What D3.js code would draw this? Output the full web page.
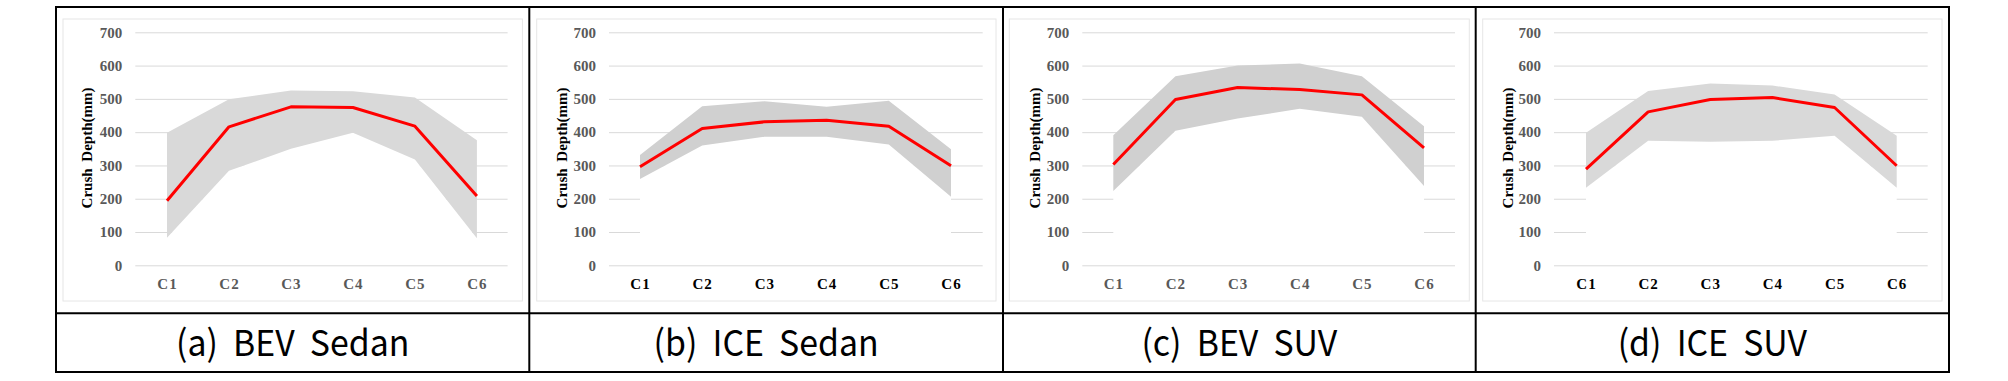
<!DOCTYPE html>
<html>
<head>
<meta charset="utf-8">
<script src="https://d3js.org/d3.v7.min.js"></script>
<style>
  body { margin: 0; background: #fff; }
  svg { display: block; }
</style>
</head>
<body>
<div id="chart"></div>
<script>
// shared axis data
var categories = ["C1", "C2", "C3", "C4", "C5", "C6"];
var yTicks = [0, 100, 200, 300, 400, 500, 600, 700];
var captions = ["(a)  BEV  Sedan", "(b)  ICE  Sedan", "(c)  BEV  SUV", "(d)  ICE  SUV"];

// crush depth (mm): mean line, upper and lower band edges
var meanBevSedan  = [194, 416, 476, 474, 418, 208];
var upperBevSedan = [398, 499, 525, 523, 504, 376];
var lowerBevSedan = [83, 284, 350, 398, 318, 81];

var meanIceSedan  = [296, 411, 431, 436, 418, 299];
var upperIceSedan = [331, 478, 493, 476, 494, 349];
var lowerIceSedan = [259, 360, 386, 386, 363, 206];

var meanBevSuv  = [303, 498, 534, 528, 512, 353];
var upperBevSuv = [391, 568, 600, 606, 568, 418];
var lowerBevSuv = [223, 404, 441, 470, 446, 238];

var meanIceSuv  = [289, 461, 498, 504, 474, 299];
var upperIceSuv = [398, 524, 546, 540, 513, 389];
var lowerIceSuv = [233, 374, 371, 374, 389, 233];

// layout of the four cells
var colEdges = [56, 529.3, 1003, 1475.7, 1949];
var tableTop = 7, rowDivider = 313.3, tableBottom = 372;

var panels = [
  { mean: meanBevSedan, upper: upperBevSedan, lower: lowerBevSedan,
    box: [63, 522.4], grid: [135.3, 507.6], c1: 167, c6: 476.9, titleX: 87.1,
    band: "#d9d9d9", xLabel: "#595959" },
  { mean: meanIceSedan, upper: upperIceSedan, lower: lowerIceSedan,
    box: [536.7, 996], grid: [609, 982.7], c1: 640, c6: 951, titleX: 561.7,
    band: "#d0d0d0", xLabel: "#000" },
  { mean: meanBevSuv, upper: upperBevSuv, lower: lowerBevSuv,
    box: [1009.3, 1469.3], grid: [1082.3, 1455], c1: 1113.3, c6: 1424, titleX: 1034.3,
    band: "#d0d0d0", xLabel: "#595959" },
  { mean: meanIceSuv, upper: upperIceSuv, lower: lowerIceSuv,
    box: [1482.7, 1942], grid: [1554, 1927.7], c1: 1586, c6: 1896.7, titleX: 1507.3,
    band: "#d9d9d9", xLabel: "#000" }
];

var width = 2008, height = 381;

var svg = d3.select("#chart")
    .append("svg")
    .attr("width", width)
    .attr("height", height)
    .style("background", "#fff");

var y = d3.scaleLinear().domain([0, 700]).range([265.3, 32.3]);

panels.forEach(function (p, k) {
    var g = svg.append("g");

    var x = d3.scalePoint().domain(categories).range([p.c1, p.c6]);

    // light chart-area frame
    g.append("rect")
        .attr("x", p.box[0]).attr("y", 19)
        .attr("width", p.box[1] - p.box[0]).attr("height", 282)
        .attr("fill", "#fff")
        .attr("stroke", "#e6e6e6")
        .attr("stroke-width", 1);

    // y axis with gridlines
    var yAxis = d3.axisLeft(y)
        .tickValues(yTicks)
        .tickSize(-(p.grid[1] - p.grid[0]))
        .tickPadding(13);

    var ya = g.append("g")
        .attr("transform", "translate(" + p.grid[0] + ",0)")
        .call(yAxis);
    ya.select(".domain").remove();
    ya.selectAll("line").attr("stroke", "#d9d9d9").attr("stroke-width", 1);
    ya.selectAll("text")
        .attr("fill", "#595959")
        .style("font-family", "'Liberation Serif', 'Times New Roman', serif")
        .style("font-weight", "bold")
        .style("font-size", "15px");

    var idx = d3.range(categories.length);

    // white area below the band hides the gridlines
    g.append("path")
        .datum(idx)
        .attr("fill", "#fff")
        .attr("d", d3.area()
            .x(function (i) { return x(categories[i]); })
            .y0(y(0) - 1)
            .y1(function (i) { return y(p.lower[i]); }));

    // grey min-max band
    g.append("path")
        .datum(idx)
        .attr("fill", p.band)
        .attr("d", d3.area()
            .x(function (i) { return x(categories[i]); })
            .y0(function (i) { return y(p.lower[i]); })
            .y1(function (i) { return y(p.upper[i]); }));

    // mean line
    g.append("path")
        .datum(idx)
        .attr("fill", "none")
        .attr("stroke", "#ff0000")
        .attr("stroke-width", 3)
        .attr("stroke-linejoin", "round")
        .attr("d", d3.line()
            .x(function (i) { return x(categories[i]); })
            .y(function (i) { return y(p.mean[i]); }));

    // x axis labels
    var xa = g.append("g")
        .attr("transform", "translate(0," + y(0) + ")")
        .call(d3.axisBottom(x).tickSize(0).tickPadding(13.4));
    xa.select(".domain").remove();
    xa.selectAll("text")
        .attr("fill", p.xLabel)
        .style("font-family", "'Liberation Serif', 'Times New Roman', serif")
        .style("font-weight", "bold")
        .style("font-size", "15px")
        .style("letter-spacing", "1px");

    // y axis title
    g.append("text")
        .attr("transform", "translate(" + p.titleX + ",148) rotate(-90)")
        .attr("text-anchor", "middle")
        .attr("dy", "0.35em")
        .attr("fill", "#000")
        .style("font-family", "'Liberation Serif', 'Times New Roman', serif")
        .style("font-weight", "bold")
        .style("font-size", "15px")
        .style("word-spacing", "3px")
        .text("Crush Depth(mm)");

    // caption (slightly condensed like the original font)
    var cx = (colEdges[k] + colEdges[k + 1]) / 2;
    g.append("text")
        .attr("transform", "translate(" + cx + ",343) scale(0.94,1)")
        .attr("dy", "0.36em")
        .attr("text-anchor", "middle")
        .attr("fill", "#000")
        .style("font-family", "'Noto Sans CJK KR', 'Noto Sans', sans-serif")
        .style("font-size", "36px")
        .style("white-space", "pre")
        .text(captions[k]);
});

// table borders
var borders = svg.append("g")
    .attr("stroke", "#000")
    .attr("stroke-width", 2)
    .attr("fill", "none");

borders.append("rect")
    .attr("x", colEdges[0]).attr("y", tableTop)
    .attr("width", colEdges[4] - colEdges[0])
    .attr("height", tableBottom - tableTop);

borders.append("line")
    .attr("x1", colEdges[0]).attr("x2", colEdges[4])
    .attr("y1", rowDivider).attr("y2", rowDivider);

colEdges.slice(1, 4).forEach(function (cx) {
    borders.append("line")
        .attr("x1", cx).attr("x2", cx)
        .attr("y1", tableTop).attr("y2", tableBottom);
});
</script>
</body>
</html>
